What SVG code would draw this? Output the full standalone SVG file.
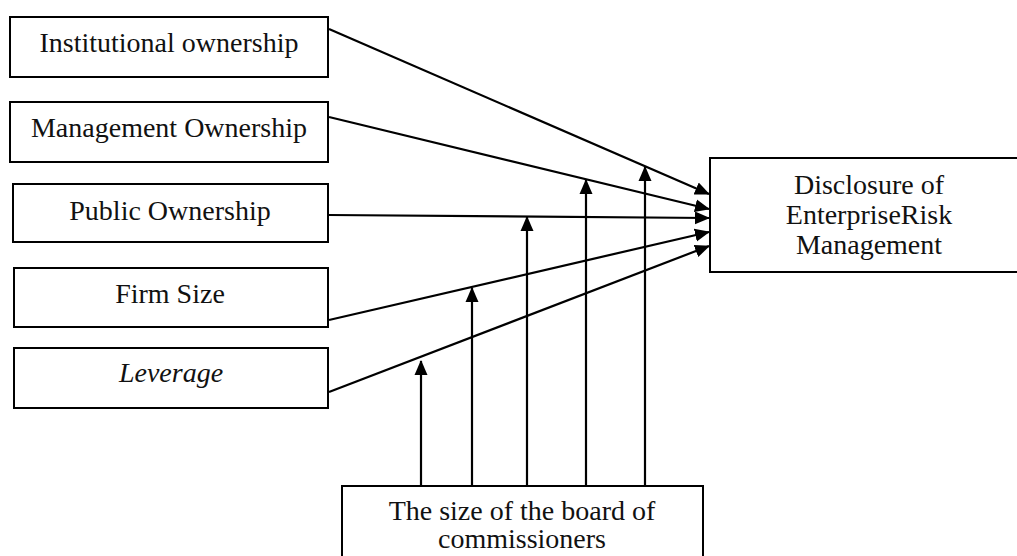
<svg xmlns="http://www.w3.org/2000/svg" width="1017" height="556" viewBox="0 0 1017 556">
<style>
.box{fill:#fff;stroke:#000;stroke-width:2}
.lbl{font-family:"Liberation Serif","Times New Roman",serif;font-size:28px;fill:#111;text-anchor:middle}
.con{stroke:#000;stroke-width:2.2;fill:none;marker-end:url(#ah)}
</style>
<defs>
<marker id="ah" markerUnits="userSpaceOnUse" markerWidth="16" markerHeight="14" refX="14" refY="7" orient="auto">
<path d="M0,0.5 L15,7 L0,13.5 z" fill="#000"/>
</marker>
</defs>
<rect width="1017" height="556" fill="#fff"/>
<g id="n-institutional"><rect class="box" x="10" y="17" width="318" height="60"/><text class="lbl" x="169" y="52">Institutional ownership</text></g>
<g id="n-management"><rect class="box" x="10" y="102" width="318" height="60"/><text class="lbl" x="169" y="137">Management Ownership</text></g>
<g id="n-public"><rect class="box" x="13" y="184" width="315" height="58"/><text class="lbl" x="170" y="220">Public Ownership</text></g>
<g id="n-firmsize"><rect class="box" x="14" y="268" width="314" height="59"/><text class="lbl" x="170" y="303">Firm Size</text></g>
<g id="n-leverage"><rect class="box" x="14" y="348" width="314" height="60"/><text class="lbl" x="171" y="382" font-style="italic">Leverage</text></g>
<g id="n-erm"><rect class="box" x="710" y="158" width="320" height="114"/><text class="lbl" x="869" y="194">Disclosure of</text><text class="lbl" x="869" y="224">EnterpriseRisk</text><text class="lbl" x="869" y="254">Management</text></g>
<g id="n-board"><rect class="box" x="342" y="486" width="361" height="80"/><text class="lbl" x="522" y="520">The size of the board of</text><text class="lbl" x="522" y="548">commissioners</text></g>
<g id="connectors">
<line class="con" x1="329" y1="29" x2="709" y2="194"/>
<line class="con" x1="329" y1="117" x2="709" y2="209"/>
<line class="con" x1="329" y1="215" x2="709" y2="218"/>
<line class="con" x1="329" y1="320" x2="709" y2="232"/>
<line class="con" x1="329" y1="392" x2="709" y2="246"/>
<line class="con" x1="421" y1="486" x2="421" y2="361"/>
<line class="con" x1="472" y1="486" x2="472" y2="288"/>
<line class="con" x1="527" y1="486" x2="527" y2="217"/>
<line class="con" x1="586" y1="486" x2="586" y2="180"/>
<line class="con" x1="645" y1="486" x2="645" y2="167"/>
</g>
</svg>
